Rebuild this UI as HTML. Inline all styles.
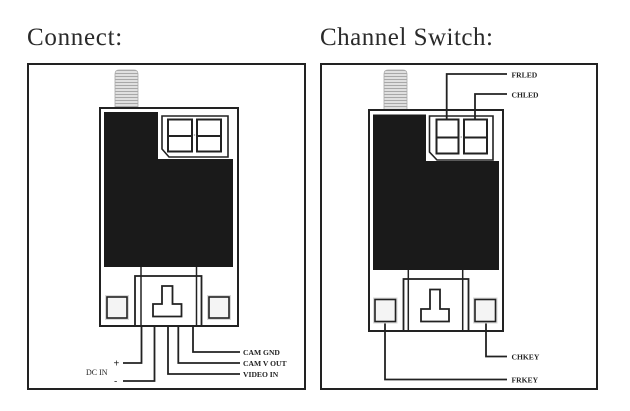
<!DOCTYPE html>
<html><head><meta charset="utf-8"><style>
html,body{margin:0;padding:0;background:#fff;}
svg{display:block;}
</style></head><body>
<svg width="630" height="411" viewBox="0 0 630 411" xmlns="http://www.w3.org/2000/svg">
<defs>
<pattern id="thr" x="0" y="0" width="4" height="3" patternUnits="userSpaceOnUse">
<rect width="4" height="3" fill="#e0e0e0"/>
<line x1="0" y1="1.5" x2="4" y2="1.5" stroke="#9a9a9a" stroke-width="0.8"/>
</pattern>
</defs>
<g font-family="Liberation Serif, serif" fill="#2a2a2a">
<text x="27" y="45" font-size="25" letter-spacing="0.7">Connect:</text>
<text x="320" y="45" font-size="25" letter-spacing="0.5">Channel Switch:</text>
</g>

<!-- LEFT -->
<rect x="28" y="64" width="277" height="325" fill="none" stroke="#222" stroke-width="2"/>
<path d="M115,110 L115,74 Q115,70 119,70 L134,70 Q138,70 138,74 L138,110 Z" fill="url(#thr)" stroke="#aaa" stroke-width="0.8"/>
<rect x="100" y="108" width="138" height="218" fill="#fff" stroke="#222" stroke-width="2"/>
<path d="M104,112 L158,112 L158,159 L233,159 L233,267 L104,267 Z" fill="#1a1a1a"/>
<path d="M162,116 L228,116 L228,157 L169,157 L162,149 Z" fill="none" stroke="#222" stroke-width="1.6"/>
<rect x="168" y="119.5" width="24" height="32" fill="none" stroke="#222" stroke-width="2"/>
<rect x="197" y="119.5" width="24" height="32" fill="none" stroke="#222" stroke-width="2"/>
<line x1="168" y1="136" x2="192" y2="136" stroke="#222" stroke-width="2"/>
<line x1="197" y1="136" x2="221" y2="136" stroke="#222" stroke-width="2"/>
<circle cx="194.5" cy="135" r="0.8" fill="#999"/>
<line x1="141" y1="267" x2="141" y2="326" stroke="#222" stroke-width="1.5"/>
<line x1="196.5" y1="267" x2="196.5" y2="326" stroke="#222" stroke-width="1.5"/>
<rect x="135" y="276" width="66.5" height="50" fill="none" stroke="#222" stroke-width="1.8"/>
<path d="M162,286 L172.5,286 L172.5,304 L181.5,304 L181.5,316.5 L153,316.5 L153,304 L162,304 Z" fill="none" stroke="#222" stroke-width="1.8"/>
<rect x="105" y="295" width="24" height="25" fill="#d8d8d8"/>
<rect x="107" y="297" width="20" height="21" fill="#f4f4f4" stroke="#222" stroke-width="1.6"/>
<rect x="207" y="295" width="24" height="25" fill="#d8d8d8"/>
<rect x="209" y="297" width="20" height="21" fill="#f4f4f4" stroke="#222" stroke-width="1.6"/>
<g fill="none" stroke="#222" stroke-width="1.8">
<path d="M193,326 L193,352 L240,352"/>
<path d="M178.3,326 L178.3,363 L240,363"/>
<path d="M168,326 L168,374 L240,374"/>
<path d="M141.5,326 L141.5,363 L123,363"/>
<path d="M154.5,326 L154.5,381 L123,381"/>
</g>
<g font-family="Liberation Serif, serif" font-weight="bold" font-size="7.6" fill="#222">
<text x="243" y="355">CAM GND</text>
<text x="243" y="366">CAM  V OUT</text>
<text x="243" y="377">VIDEO IN</text>
<text x="86" y="375" font-weight="normal" font-size="8">DC IN</text>
</g>
<g font-family="Liberation Sans, sans-serif" font-size="10" fill="#222">
<text x="113.5" y="366.5">+</text>
<text x="114" y="384.5">-</text>
</g>

<!-- RIGHT -->
<rect x="321" y="64" width="276" height="325" fill="none" stroke="#222" stroke-width="2"/>
<path d="M384,111 L384,74 Q384,70 388,70 L403,70 Q407,70 407,74 L407,111 Z" fill="url(#thr)" stroke="#aaa" stroke-width="0.8"/>
<rect x="369" y="110" width="134" height="221" fill="#fff" stroke="#222" stroke-width="2"/>
<path d="M373,114.5 L426,114.5 L426,161 L499,161 L499,270 L373,270 Z" fill="#1a1a1a"/>
<path d="M429.5,116 L493,116 L493,160 L437,160 L429.5,152 Z" fill="none" stroke="#222" stroke-width="1.6"/>
<rect x="436.5" y="119.5" width="22" height="34" fill="none" stroke="#222" stroke-width="2"/>
<rect x="464" y="119.5" width="23" height="34" fill="none" stroke="#222" stroke-width="2"/>
<line x1="436.5" y1="137.5" x2="458.5" y2="137.5" stroke="#222" stroke-width="2"/>
<line x1="464" y1="137.5" x2="487" y2="137.5" stroke="#222" stroke-width="2"/>
<circle cx="461.2" cy="137" r="0.8" fill="#999"/>
<line x1="408.3" y1="270" x2="408.3" y2="331" stroke="#222" stroke-width="1.5"/>
<line x1="462.7" y1="270" x2="462.7" y2="331" stroke="#222" stroke-width="1.5"/>
<rect x="403.5" y="279" width="65" height="52" fill="none" stroke="#222" stroke-width="1.8"/>
<path d="M430,289.5 L440,289.5 L440,309 L449,309 L449,321.5 L421,321.5 L421,309 L430,309 Z" fill="none" stroke="#222" stroke-width="1.8"/>
<rect x="373" y="297.5" width="24.5" height="26" fill="#d8d8d8"/>
<rect x="375" y="299.5" width="20.5" height="22" fill="#f4f4f4" stroke="#222" stroke-width="1.6"/>
<rect x="473" y="297.5" width="24.5" height="26" fill="#d8d8d8"/>
<rect x="475" y="299.5" width="20.5" height="22" fill="#f4f4f4" stroke="#222" stroke-width="1.6"/>
<g fill="none" stroke="#222" stroke-width="1.8">
<path d="M446.7,119.5 L446.7,74 L507,74"/>
<path d="M475,119.5 L475,94 L507,94"/>
<path d="M486,323.5 L486,356.5 L507,356.5"/>
<path d="M385,323.5 L385,379.5 L507,379.5"/>
</g>
<g font-family="Liberation Serif, serif" font-weight="bold" font-size="7.6" fill="#222">
<text x="511.5" y="77.5">FRLED</text>
<text x="511.5" y="97.5">CHLED</text>
<text x="511.5" y="359.5">CHKEY</text>
<text x="511.5" y="382.5">FRKEY</text>
</g>
</svg>
</body></html>
